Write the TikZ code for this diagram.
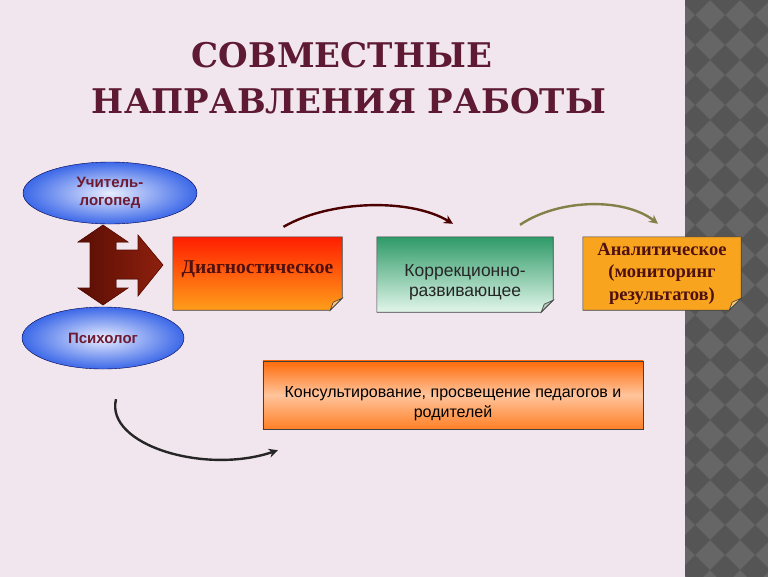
\documentclass[tikz,border=0pt]{standalone}
\usepackage{fontspec}
\setmainfont{Liberation Serif}
\setsansfont{Liberation Sans}
\newfontfamily\titlefont{DejaVu Serif}
\usetikzlibrary{shapes.geometric,arrows.meta}
\pgfdeclarelayer{back}
\pgfdeclarelayer{fills}
\pgfsetlayers{back,fills,main}
\definecolor{slide}{HTML}{F2E6EE}
\definecolor{titlered}{HTML}{5E1A33}
\definecolor{maroon}{HTML}{6E1A30}
\definecolor{boxtext}{HTML}{4E1010}
\definecolor{stripgray}{HTML}{666666}
\definecolor{stripdark}{HTML}{555555}
\definecolor{diagtop}{HTML}{FF1E00}
\definecolor{diagbot}{HTML}{FF9E1A}
\definecolor{korrtop}{HTML}{2E9A68}
\definecolor{korrbot}{HTML}{E2F6EA}
\definecolor{analfill}{HTML}{F8A41E}
\definecolor{constop}{HTML}{FF6A08}
\definecolor{consmid}{HTML}{FFC49C}
\definecolor{consbot}{HTML}{FF8026}
\definecolor{bluein}{HTML}{E8EDFF}
\definecolor{blueout}{HTML}{3C68E8}
\definecolor{bigred}{HTML}{8E200E}
\definecolor{bigdark}{HTML}{5A0E04}

\begin{document}
\begin{tikzpicture}[x=1pt,y=-1pt,
  person/.style={ellipse,draw=blue!30!black,inner color=bluein,outer color=blueout,
    text=maroon,font=\sffamily\bfseries\fontsize{15}{18}\selectfont,align=center},
  card/.style={inner sep=0pt,align=center},
  edge/.style={draw=black!75,line width=0.6pt},
  flap/.style={fill=#1,draw=black!75,line width=0.6pt},
  swoosh/.style={line width=2.4pt,-{Stealth[length=9pt,width=9pt]}}]
\useasboundingbox (0,0) rectangle (768,576);

\begin{pgfonlayer}{back}
\fill[slide] (-2,-2) rectangle (770,578);
\begin{scope}
\clip (685,-2) rectangle (770,578);
\fill[stripgray] (685,-2) rectangle (770,578);
\foreach \i in {0,...,3}
  \foreach \j in {0,...,20}
    \fill[stripdark] (695+30*\i,30*\j-15) -- ++(15,15) -- ++(-15,15) -- ++(-15,-15) -- cycle;
\end{scope}
\end{pgfonlayer}

% title
\node[text=titlered] (title1) at (342,55) {\titlefont\bfseries\fontsize{34}{40}\selectfont СОВМЕСТНЫЕ};
\node[text=titlered] (title2) at (349,101) {\titlefont\bfseries\fontsize{34}{40}\selectfont НАПРАВЛЕНИЯ РАБОТЫ};

% who
\node[person,minimum width=174,minimum height=62] (teach) at (110,193) {Учитель-\\логопед};
\node[person,minimum width=162,minimum height=62] (psych) at (103,338) {Психолог};

\fill[left color=bigdark,right color=bigred,draw=bigdark,line width=0.6pt]
  (103,225) -- (128,242) -- (116,242) -- (116,250) -- (138,250) -- (138,235) -- (163,265)
  -- (138,296) -- (138,279) -- (116,279) -- (116,288) -- (128,288) -- (103,305)
  -- (78,288) -- (90,288) -- (90,242) -- (78,242) -- cycle;

% directions
\node[card,minimum width=169,minimum height=73] (diag) at (257.5,273.5) {};
\node[card,minimum width=176,minimum height=75] (korr) at (465,274.5) {};
\node[card,minimum width=158,minimum height=73] (anal) at (662,273.5) {};
\node[card,minimum width=380,minimum height=68] (cons) at (453,395) {};

\node[card,text=boxtext,font=\bfseries\fontsize{19.5}{23}\selectfont]
  (diag label) at ([shift={(0,-4)}]diag.center) {Диагностическое};
\node[card,text=black!85,font=\sffamily\fontsize{17.5}{20.5}\selectfont]
  (korr label) at ([shift={(0,8)}]korr.center) {Коррекционно-\\развивающее};
\node[card,text=boxtext,font=\bfseries\fontsize{18.5}{22.5}\selectfont]
  (anal label) at (anal.center) {Аналитическое\\(мониторинг\\результатов)};
\node[card,text=black,font=\sffamily\fontsize{16}{20}\selectfont]
  (cons label) at ([shift={(0,9)}]cons.center) {Консультирование, просвещение педагогов и\\родителей};

\begin{pgfonlayer}{fills}
\path[top color=diagtop,bottom color=diagbot,edge] (diag.north west) -- (diag.north east)
  -- ([shift={(0,-12)}]diag.south east) -- ([shift={(-12,0)}]diag.south east) -- (diag.south west) -- cycle;
\path[flap=diagbot!60!white] ([shift={(0,-12)}]diag.south east) -- ([shift={(-12,0)}]diag.south east)
  -- ([shift={(-9,-8)}]diag.south east) -- cycle;
\path[top color=korrtop,bottom color=korrbot,edge] (korr.north west) -- (korr.north east)
  -- ([shift={(0,-12)}]korr.south east) -- ([shift={(-12,0)}]korr.south east) -- (korr.south west) -- cycle;
\path[flap=korrbot!80!black] ([shift={(0,-12)}]korr.south east) -- ([shift={(-12,0)}]korr.south east)
  -- ([shift={(-9,-8)}]korr.south east) -- cycle;
\path[fill=analfill,edge] (anal.north west) -- (anal.north east)
  -- ([shift={(0,-12)}]anal.south east) -- ([shift={(-12,0)}]anal.south east) -- (anal.south west) -- cycle;
\path[flap=analfill!60!white] ([shift={(0,-12)}]anal.south east) -- ([shift={(-12,0)}]anal.south east)
  -- ([shift={(-9,-8)}]anal.south east) -- cycle;
\path[top color=constop,bottom color=consbot,middle color=consmid,edge]
  (cons.north west) rectangle (cons.south east);
\end{pgfonlayer}

% arrows
\draw[swoosh,draw=black!70!red] ([shift={(26,-10)}]diag.north)
  .. controls (330,200) and (410,198) .. ([shift={(-12,-13)}]korr.north);
\draw[swoosh,draw=black!55!yellow] ([shift={(55,-12)}]korr.north)
  .. controls (560,198) and (625,198) .. ([shift={(-4,-13)}]anal.north);
\draw[swoosh,draw=black!85] ([shift={(13,30)}]psych.south)
  .. controls (105,445) and (205,475) .. ([shift={(15,21)}]cons.south west);
\end{tikzpicture}
\end{document}
